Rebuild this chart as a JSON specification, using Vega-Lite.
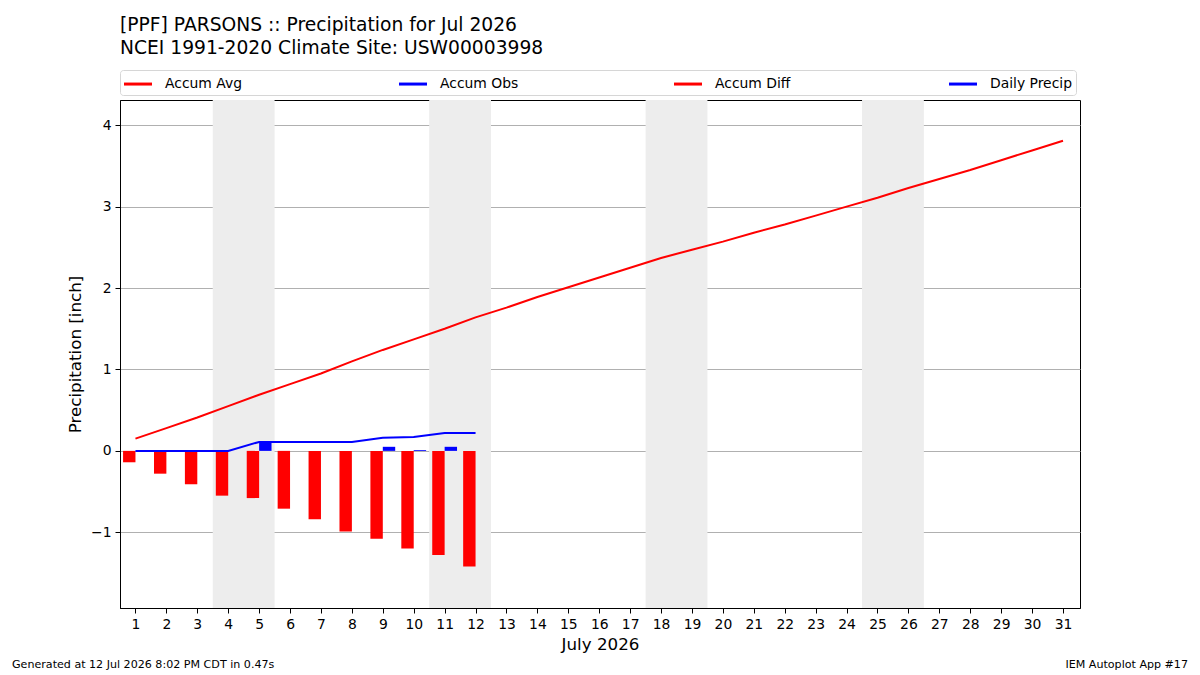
{
  "$schema": "https://vega.github.io/schema/vega-lite/v6.json",
  "background": "white",
  "padding": {"left": 12, "top": 15, "right": 12, "bottom": 0},
  "bounds": "flush",
  "spacing": 52,
  "resolve": {"scale": {"color": "independent"}, "legend": {"color": "independent"}},
  "config": {
    "font": "DejaVu Sans",
    "view": {"stroke": "black", "strokeWidth": 1},
    "axis": {
      "domainColor": "black",
      "tickColor": "black",
      "labelColor": "black",
      "titleColor": "black",
      "labelFontSize": 13.9,
      "titleFontSize": 16.7,
      "titleFontWeight": "normal",
      "tickSize": 5,
      "labelPadding": 4
    }
  },
  "datasets": {
    "days": [
      {"day": 1, "avg": 0.15, "obs": 0.0, "diff": -0.14, "precip": 0.0},
      {"day": 2, "avg": 0.28, "obs": 0.0, "diff": -0.28, "precip": 0.0},
      {"day": 3, "avg": 0.41, "obs": 0.0, "diff": -0.41, "precip": 0.0},
      {"day": 4, "avg": 0.55, "obs": 0.0, "diff": -0.55, "precip": 0.0},
      {"day": 5, "avg": 0.69, "obs": 0.11, "diff": -0.58, "precip": 0.11},
      {"day": 6, "avg": 0.82, "obs": 0.11, "diff": -0.71, "precip": 0.0},
      {"day": 7, "avg": 0.95, "obs": 0.11, "diff": -0.84, "precip": 0.0},
      {"day": 8, "avg": 1.10, "obs": 0.11, "diff": -0.99, "precip": 0.0},
      {"day": 9, "avg": 1.24, "obs": 0.16, "diff": -1.08, "precip": 0.05},
      {"day": 10, "avg": 1.37, "obs": 0.17, "diff": -1.20, "precip": 0.01},
      {"day": 11, "avg": 1.50, "obs": 0.22, "diff": -1.28, "precip": 0.05},
      {"day": 12, "avg": 1.64, "obs": 0.22, "diff": -1.42, "precip": 0.0},
      {"day": 13, "avg": 1.76, "obs": null, "diff": null, "precip": null},
      {"day": 14, "avg": 1.89, "obs": null, "diff": null, "precip": null},
      {"day": 15, "avg": 2.01, "obs": null, "diff": null, "precip": null},
      {"day": 16, "avg": 2.13, "obs": null, "diff": null, "precip": null},
      {"day": 17, "avg": 2.25, "obs": null, "diff": null, "precip": null},
      {"day": 18, "avg": 2.37, "obs": null, "diff": null, "precip": null},
      {"day": 19, "avg": 2.47, "obs": null, "diff": null, "precip": null},
      {"day": 20, "avg": 2.57, "obs": null, "diff": null, "precip": null},
      {"day": 21, "avg": 2.68, "obs": null, "diff": null, "precip": null},
      {"day": 22, "avg": 2.78, "obs": null, "diff": null, "precip": null},
      {"day": 23, "avg": 2.89, "obs": null, "diff": null, "precip": null},
      {"day": 24, "avg": 3.00, "obs": null, "diff": null, "precip": null},
      {"day": 25, "avg": 3.11, "obs": null, "diff": null, "precip": null},
      {"day": 26, "avg": 3.23, "obs": null, "diff": null, "precip": null},
      {"day": 27, "avg": 3.34, "obs": null, "diff": null, "precip": null},
      {"day": 28, "avg": 3.45, "obs": null, "diff": null, "precip": null},
      {"day": 29, "avg": 3.57, "obs": null, "diff": null, "precip": null},
      {"day": 30, "avg": 3.69, "obs": null, "diff": null, "precip": null},
      {"day": 31, "avg": 3.81, "obs": null, "diff": null, "precip": null}
    ],
    "weekends": [
      {"from": 3.5, "to": 5.5},
      {"from": 10.5, "to": 12.5},
      {"from": 17.5, "to": 19.5},
      {"from": 24.5, "to": 26.5}
    ],
    "footer": [
      {"side": "left", "label": "Generated at 12 Jul 2026 8:02 PM CDT in 0.47s"},
      {"side": "right", "label": "IEM Autoplot App #17"}
    ]
  },
  "vconcat": [
    {
      "width": 960,
      "height": 508,
      "title": {
        "text": ["[PPF] PARSONS :: Precipitation for Jul 2026", "NCEI 1991-2020 Climate Site: USW00003998"],
        "anchor": "start",
        "frame": "group",
        "fontSize": 18.7,
        "fontWeight": "normal",
        "lineHeight": 23,
        "color": "black",
        "offset": 12
      },
      "layer": [
        {
          "data": {"name": "weekends"},
          "mark": {"type": "rect", "color": "#ededed"},
          "encoding": {
            "x": {
              "field": "from",
              "type": "quantitative",
              "title": "July 2026",
              "scale": {"domain": [0.5, 31.55], "nice": false, "zero": false, "padding": 0},
              "axis": {"tickCount": 31, "tickMinStep": 1, "grid": false, "titlePadding": 6}
            },
            "x2": {"field": "to"}
          }
        },
        {
          "data": {"name": "days"},
          "mark": {"type": "bar", "width": 12.4, "xOffset": -6.2},
          "encoding": {
            "x": {"field": "day", "type": "quantitative", "title": "July 2026"},
            "y": {
              "field": "diff",
              "type": "quantitative",
              "title": "Precipitation [inch]",
              "scale": {"domain": [-1.93, 4.31], "nice": false, "zero": false},
              "axis": {"values": [-1, 0, 1, 2, 3, 4], "format": "d", "grid": true, "gridColor": "#b0b0b0", "gridWidth": 1, "titlePadding": 6}
            },
            "y2": {"datum": 0},
            "color": {
              "datum": "Accum Diff",
              "type": "nominal",
              "scale": {"domain": ["Accum Avg", "Accum Obs", "Accum Diff", "Daily Precip"], "range": ["#ff0000", "#0000ff", "#ff0000", "#0000ff"]},
              "legend": {
                "orient": "top",
                "direction": "horizontal",
                "columns": 4,
                "title": null,
                "gridAlign": "all",
                "columnPadding": 152,
                "labelFontSize": 13.9,
                "labelColor": "black",
                "labelOffset": 21,
                "symbolSize": 400,
                "symbolType": "M-1,-0.15H1.8V0.15H-1Z",
                "symbolStrokeWidth": 0,
                "strokeColor": "#d6d6d6",
                "fillColor": "white",
                "cornerRadius": 3,
                "padding": 4,
                "offset": 5
              }
            }
          }
        },
        {
          "data": {"name": "days"},
          "mark": {"type": "bar", "width": 12.4, "xOffset": 6.2},
          "encoding": {
            "x": {"field": "day", "type": "quantitative", "title": "July 2026"},
            "y": {"field": "precip", "type": "quantitative", "title": "Precipitation [inch]"},
            "y2": {"datum": 0},
            "color": {"datum": "Daily Precip", "type": "nominal"}
          }
        },
        {
          "data": {"name": "days"},
          "mark": {"type": "line", "strokeWidth": 2},
          "encoding": {
            "x": {"field": "day", "type": "quantitative", "title": "July 2026"},
            "y": {"field": "avg", "type": "quantitative", "title": "Precipitation [inch]"},
            "color": {"datum": "Accum Avg", "type": "nominal"}
          }
        },
        {
          "data": {"name": "days"},
          "mark": {"type": "line", "strokeWidth": 2},
          "encoding": {
            "x": {"field": "day", "type": "quantitative", "title": "July 2026"},
            "y": {"field": "obs", "type": "quantitative", "title": "Precipitation [inch]"},
            "color": {"datum": "Accum Obs", "type": "nominal"}
          }
        }
      ]
    },
    {
      "width": 960,
      "height": 10,
      "view": {"stroke": null},
      "data": {"name": "footer"},
      "mark": {
        "type": "text",
        "fontSize": 11.1,
        "color": "black",
        "baseline": "middle",
        "align": {"expr": "datum.side === 'left' ? 'left' : 'right'"}
      },
      "encoding": {
        "x": {
          "field": "side",
          "type": "nominal",
          "scale": {"type": "point", "domain": ["left", "right"], "range": [-108, 1068], "padding": 0},
          "axis": null
        },
        "text": {"field": "label"}
      }
    }
  ]
}
